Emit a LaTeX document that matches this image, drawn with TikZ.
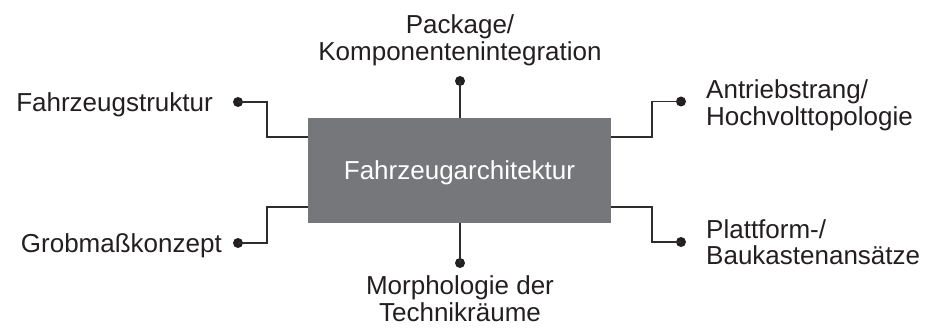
\documentclass[tikz,border=0pt]{standalone}
\usepackage{fontspec}
\setmainfont{Liberation Sans}
\definecolor{boxc}{RGB}{118,119,123}
\definecolor{txtc}{RGB}{35,31,32}
\definecolor{linec}{RGB}{45,45,45}
\begin{document}
\begin{tikzpicture}[x=1pt,y=-1pt,
  lbl/.style={font=\fontsize{26}{26.5}\selectfont, text=txtc, inner sep=0pt},
  archbox/.style={fill=boxc, minimum width=303pt, minimum height=105pt, inner sep=0pt,
    text=white, font=\fontsize{26}{26}\selectfont, text height=18.6pt, text depth=0pt},
  dotn/.style={circle, fill=txtc, inner sep=0pt, minimum size=10pt},
  conn/.style={draw=linec, line width=1.3pt}]
\useasboundingbox (0,0) rectangle (927,329);

\node[archbox] (arch) at (459.5,170.5) {Fahrzeugarchitektur};

\node[dotn] (dt) at (460,81) {};
\node[dotn] (db) at (460,263) {};
\node[dotn] (dlt) at (238,102) {};
\node[dotn] (dlb) at (238,243) {};
\node[dotn] (drt) at (681,101.5) {};
\node[dotn] (drb) at (681,242) {};

\coordinate (elt) at (267,137);
\coordinate (elb) at (267,207);
\coordinate (ert) at (652,137);
\coordinate (erb) at (652,207);

\draw[conn] (dt.center) -- (dt |- arch.north);
\draw[conn] (db.center) -- (db |- arch.south);
\draw[conn] (dlt.center) -| (elt) -- (elt -| arch.west);
\draw[conn] (dlb.center) -| (elb) -- (elb -| arch.west);
\draw[conn] (drt.center) -| (ert) -- (ert -| arch.east);
\draw[conn] (drb.center) -| (erb) -- (erb -| arch.east);

\node[lbl, anchor=base east] (tlt) at (213,111.3) {Fahrzeugstruktur};
\node[lbl, anchor=base east] (tlb) at (222,252.3) {Grobmaßkonzept};
\node[lbl, anchor=north, align=center] (tt) at (460,14.5) {Package/\\Komponentenintegration};
\node[lbl, anchor=north, align=center] (tb) at (460,275.5) {Morphologie der\\Technikräume};
\node[lbl, anchor=north west, align=left] (trt) at (706,79.5) {Antriebstrang/\\Hochvolttopologie};
\node[lbl, anchor=north west, align=left] (trb) at (706,219) {Plattform-/\\Baukastenansätze};
\end{tikzpicture}
\end{document}
